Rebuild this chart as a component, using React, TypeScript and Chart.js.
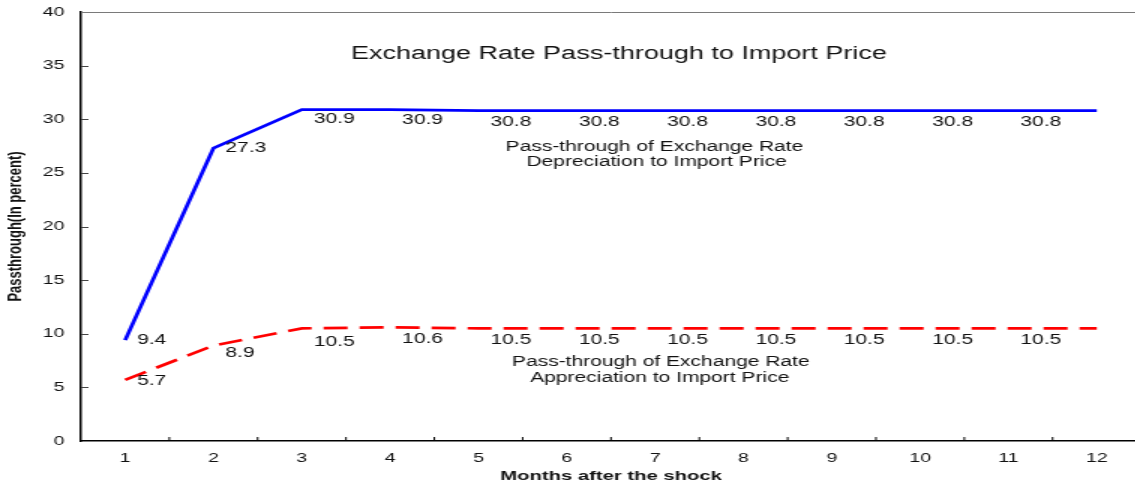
import { useEffect, useRef } from "react";
import { Chart, registerables } from "chart.js";

Chart.register(...registerables);

// ---- data ----
const months = ["1", "2", "3", "4", "5", "6", "7", "8", "9", "10", "11", "12"];
const depreciation = [9.4, 27.3, 30.9, 30.9, 30.8, 30.8, 30.8, 30.8, 30.8, 30.8, 30.8, 30.8];
const appreciation = [5.7, 8.9, 10.5, 10.6, 10.5, 10.5, 10.5, 10.5, 10.5, 10.5, 10.5, 10.5];
const depreciationLabels = ["9.4", "27.3", "30.9", "30.9", "30.8", "30.8", "30.8", "30.8", "30.8", "30.8", "30.8", ""];
const appreciationLabels = ["5.7", "8.9", "10.5", "10.6", "10.5", "10.5", "10.5", "10.5", "10.5", "10.5", "10.5", ""];
const yTicks = [0, 5, 10, 15, 20, 25, 30, 35, 40];

const chartTitle = "Exchange Rate Pass-through to Import Price";
const depNote = ["Pass-through of Exchange Rate", "Depreciation to Import Price"];
const appNote = ["Pass-through of Exchange Rate", "Appreciation to Import Price"];
const xTitle = "Months after the shock";
const yTitle = "Passthrough(In percent)";

// ---- style ----
const FONT = '"Liberation Sans", Arial, Helvetica, sans-serif';
const STRETCH = 1.5;
const INNER_W = 762;
const H = 486;

const seriesLabels = [depreciationLabels, appreciationLabels];
// vertical offsets of value labels (style only)
const labelDy = [
  [0, 0, 10, 11, 11, 11, 11, 11, 11, 11, 11, 11],
  [1, 8, 14, 12, 12, 12, 12, 12, 12, 12, 12, 12],
];

const decor = {
  id: "decor",
  afterDraw(chart: any) {
    const { ctx, chartArea: a } = chart;
    const x = chart.scales.x;
    const y = chart.scales.y;
    ctx.save();

    // top frame line
    ctx.strokeStyle = "#7a7a7a";
    ctx.lineWidth = 1;
    ctx.beginPath();
    ctx.moveTo(a.left, Math.round(a.top) + 0.5);
    ctx.lineTo(a.right, Math.round(a.top) + 0.5);
    ctx.stroke();

    // inward y tick marks
    ctx.strokeStyle = "#444";
    ctx.lineWidth = 1;
    for (const v of yTicks) {
      if (v === yTicks[0] || v === yTicks[yTicks.length - 1]) continue;
      const py = Math.round(y.getPixelForValue(v)) + 0.5;
      ctx.beginPath();
      ctx.moveTo(a.left, py);
      ctx.lineTo(a.left + 5, py);
      ctx.stroke();
    }

    // x tick marks between categories
    ctx.strokeStyle = "#000";
    const half = (x.getPixelForValue(1) - x.getPixelForValue(0)) / 2;
    for (let i = 0; i < months.length; i++) {
      const px = x.getPixelForValue(i) + half;
      ctx.beginPath();
      ctx.moveTo(px, a.bottom);
      ctx.lineTo(px, a.bottom - 4);
      ctx.stroke();
    }

    // value labels
    ctx.fillStyle = "#111";
    ctx.font = `14px ${FONT}`;
    ctx.textAlign = "left";
    ctx.textBaseline = "middle";
    chart.data.datasets.forEach((_: any, di: number) => {
      const meta = chart.getDatasetMeta(di);
      const labs = seriesLabels[di];
      meta.data.forEach((pt: any, i: number) => {
        if (!labs[i]) return;
        ctx.fillText(labs[i], pt.x + 8, pt.y + labelDy[di][i]);
      });
    });

    // titles / notes
    ctx.textAlign = "center";
    const W = a.right - a.left;
    const Hh = a.bottom - a.top;
    ctx.font = `18px ${FONT}`;
    ctx.fillText(chartTitle, a.left + W * 0.5075, a.top + Hh * 0.098);
    ctx.font = `14px ${FONT}`;
    ctx.fillText(depNote[0], a.left + W * 0.541, a.top + Hh * 0.315);
    ctx.fillText(depNote[1], a.left + W * 0.543, a.top + Hh * 0.350);
    ctx.fillText(appNote[0], a.left + W * 0.547, a.top + Hh * 0.816);
    ctx.fillText(appNote[1], a.left + W * 0.546, a.top + Hh * 0.853);

    ctx.restore();
  },
};

export default function App() {
  const ref = useRef<HTMLCanvasElement>(null);

  useEffect(() => {
    if (!ref.current) return;
    const chart = new Chart(ref.current, {
      type: "line",
      data: {
        labels: months,
        datasets: [
          {
            label: "Depreciation",
            data: depreciation,
            borderColor: "#0000ff",
            borderWidth: 2.7,
            pointRadius: 0,
            tension: 0,
            fill: false,
          },
          {
            label: "Appreciation",
            data: appreciation,
            borderColor: "#ff0000",
            borderWidth: 2.7,
            borderDash: [16, 8],
            pointRadius: 0,
            tension: 0,
            fill: false,
          },
        ],
      },
      options: {
        animation: false,
        responsive: true,
        maintainAspectRatio: false,
        layout: { padding: { top: 12, right: 0, bottom: 0, left: 0 } },
        plugins: {
          legend: { display: false },
          tooltip: { enabled: false },
          title: { display: false },
        },
        scales: {
          x: {
            type: "category",
            offset: true,
            grid: { display: false, drawTicks: false },
            border: { display: true, color: "#000", width: 1.5 },
            ticks: {
              color: "#111",
              font: { family: FONT, size: 13 },
              padding: 10,
              maxRotation: 0,
              autoSkip: false,
            },
            title: {
              display: true,
              text: xTitle,
              color: "#111",
              font: { family: FONT, size: 13.5, weight: "bold" },
              padding: { top: 0, bottom: 2 },
            },
            afterFit(scale: any) {
              scale.height = 45;
              scale.paddingLeft = 0;
              scale.paddingRight = 0;
            },
          },
          y: {
            min: yTicks[0],
            max: yTicks[yTicks.length - 1],
            afterBuildTicks(scale: any) {
              scale.ticks = yTicks.map((v) => ({ value: v }));
            },
            grid: { display: false, drawTicks: false },
            border: { display: true, color: "#000", width: 1.5 },
            ticks: {
              color: "#111",
              font: { family: FONT, size: 13 },
              padding: 11,
            },
            title: {
              display: true,
              text: yTitle,
              color: "#111",
              font: { family: FONT, size: 13, weight: "bold" },
              padding: { top: 3, bottom: 0 },
            },
            afterFit(scale: any) {
              scale.width = 54;
              scale.paddingTop = 0;
              scale.paddingBottom = 0;
            },
          },
        },
      },
      plugins: [decor],
    });
    return () => chart.destroy();
  }, []);

  return (
    <div
      style={{
        position: "fixed",
        left: 0,
        top: 0,
        width: 1135,
        height: H,
        overflow: "hidden",
        background: "#fff",
      }}
    >
      <div
        style={{
          width: INNER_W,
          height: H,
          transform: `scaleX(${STRETCH})`,
          transformOrigin: "0 0",
        }}
      >
        <canvas ref={ref} />
      </div>
    </div>
  );
}
